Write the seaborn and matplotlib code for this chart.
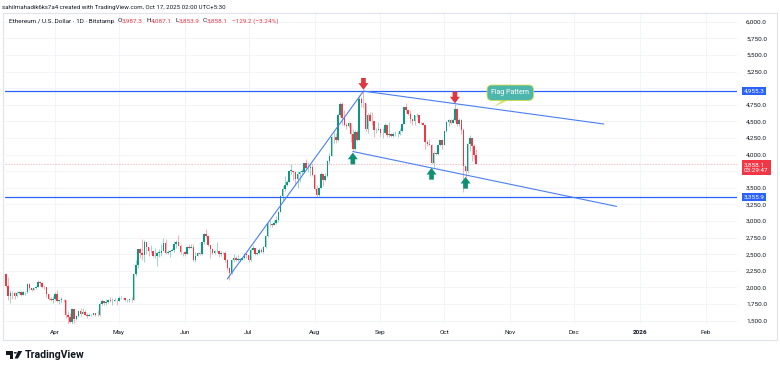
import matplotlib
matplotlib.use("Agg")
import matplotlib.pyplot as plt
import matplotlib.dates as mdates
from matplotlib.patches import Rectangle, Polygon, Circle
from matplotlib.ticker import FuncFormatter
from matplotlib.transforms import blended_transform_factory
import numpy as np
import pandas as pd
import seaborn as sns

# ETH/USD daily candles (Bitstamp, 1D)
start_day = "2025-03-09"
first_open = 2200

close_mar = [2020, 1865, 1920, 1910, 1865, 1910, 1935, 1890, 1925, 1930, 2055, 1985,
             1965, 1985, 2010, 2080, 2065, 2010, 2000, 1895, 1830, 1805, 1820]
high_mar = [2215, 2150, 1960, 1950, 1925, 1940, 1950, 1940, 1950, 1935, 2065, 2070,
            1995, 1995, 2020, 2105, 2090, 2075, 2035, 2005, 1905, 1850, 1865]
low_mar = [2010, 1810, 1760, 1830, 1825, 1860, 1900, 1870, 1885, 1885, 1920, 1960,
           1945, 1960, 1980, 2010, 2025, 1995, 1980, 1860, 1810, 1800, 1760]

close_apr = [1905, 1795, 1815, 1815, 1805, 1580, 1555, 1475, 1670, 1520, 1570, 1645, 1595, 1625, 1590,
             1575, 1585, 1585, 1615, 1590, 1580, 1755, 1795, 1770, 1785, 1815, 1790, 1800, 1800, 1795]
high_apr = [1925, 1955, 1820, 1850, 1825, 1815, 1640, 1620, 1690, 1670, 1585, 1650, 1690, 1690, 1660,
            1620, 1610, 1595, 1615, 1615, 1660, 1780, 1830, 1800, 1825, 1825, 1855, 1835, 1845, 1805]
low_apr = [1810, 1780, 1745, 1760, 1780, 1540, 1420, 1465, 1410, 1470, 1505, 1550, 1575, 1610, 1580,
           1540, 1565, 1575, 1580, 1570, 1570, 1575, 1740, 1730, 1740, 1770, 1785, 1740, 1790, 1730]

close_may = [1840, 1840, 1835, 1810, 1815, 1815, 1810, 2205, 2345, 2580, 2515, 2490, 2680, 2610, 2545, 2545,
             2470, 2480, 2525, 2525, 2550, 2665, 2525, 2530, 2550, 2565, 2660, 2680, 2630, 2530, 2530]
high_may = [1875, 1870, 1845, 1840, 1830, 1825, 1860, 2215, 2410, 2580, 2590, 2735, 2720, 2680, 2610, 2640,
            2555, 2590, 2535, 2580, 2650, 2740, 2735, 2570, 2560, 2590, 2700, 2710, 2790, 2650, 2540]
low_may = [1795, 1825, 1830, 1795, 1785, 1775, 1780, 1805, 2165, 2300, 2440, 2410, 2390, 2510, 2480, 2520,
           2455, 2450, 2330, 2460, 2470, 2550, 2510, 2510, 2460, 2545, 2540, 2600, 2620, 2500, 2480]

close_jun = [2510, 2610, 2590, 2610, 2420, 2480, 2525, 2505, 2680, 2810, 2770, 2640, 2580, 2525, 2545,
             2545, 2510, 2525, 2520, 2410, 2295, 2225, 2410, 2450, 2420, 2420, 2420, 2440, 2500, 2485]
high_jun = [2545, 2620, 2650, 2655, 2650, 2540, 2530, 2540, 2690, 2820, 2880, 2780, 2640, 2590, 2560,
            2680, 2560, 2550, 2540, 2550, 2425, 2310, 2425, 2505, 2480, 2485, 2445, 2445, 2520, 2520]
low_jun = [2470, 2500, 2580, 2590, 2400, 2380, 2470, 2490, 2490, 2660, 2760, 2630, 2440, 2500, 2510,
           2535, 2460, 2480, 2500, 2390, 2270, 2110, 2200, 2390, 2400, 2400, 2380, 2410, 2430, 2450]

close_jul = [2410, 2570, 2590, 2500, 2515, 2570, 2540, 2615, 2770, 2955, 2960, 2945, 2970, 3010, 3135, 3370,
             3475, 3545, 3590, 3755, 3760, 3740, 3630, 3705, 3740, 3745, 3870, 3795, 3795, 3810, 3700]
high_jul = [2495, 2595, 2640, 2595, 2525, 2590, 2595, 2625, 2790, 2985, 3020, 2970, 3010, 3070, 3150, 3390,
            3520, 3675, 3610, 3760, 3860, 3770, 3760, 3750, 3760, 3785, 3880, 3940, 3890, 3860, 3880]
low_jul = [2390, 2400, 2560, 2485, 2485, 2510, 2520, 2525, 2600, 2765, 2930, 2915, 2935, 2960, 2980, 3130,
           3310, 3450, 3520, 3590, 3710, 3620, 3540, 3500, 3580, 3715, 3730, 3780, 3740, 3680, 3680]

close_aug = [3485, 3395, 3500, 3715, 3610, 3685, 3910, 3980, 4260, 4260, 4225, 4600, 4760, 4550, 4440, 4430,
             4470, 4310, 4080, 4340, 4225, 4835, 4780, 4775, 4380, 4600, 4510, 4505, 4365, 4370, 4390]
high_aug = [3705, 3545, 3510, 3735, 3715, 3730, 3920, 4020, 4280, 4335, 4330, 4630, 4785, 4790, 4670, 4475,
            4490, 4480, 4390, 4370, 4375, 4890, 4860, 4955, 4780, 4620, 4645, 4635, 4505, 4395, 4485]
low_aug = [3460, 3355, 3370, 3490, 3530, 3600, 3670, 3855, 3985, 4170, 4180, 4205, 4570, 4450, 4430, 4390,
           4420, 4190, 4060, 4065, 4200, 4220, 4720, 4705, 4360, 4330, 4500, 4450, 4270, 4320, 4370]

close_sep = [4320, 4325, 4450, 4295, 4305, 4275, 4305, 4310, 4310, 4350, 4460, 4715, 4665, 4605, 4530,
             4500, 4590, 4590, 4470, 4480, 4450, 4195, 4165, 4150, 3870, 4030, 4015, 4140, 4215, 4145]
high_sep = [4395, 4395, 4475, 4450, 4490, 4320, 4335, 4350, 4345, 4400, 4465, 4720, 4770, 4670, 4665,
            4535, 4600, 4620, 4595, 4495, 4490, 4460, 4225, 4240, 4155, 4050, 4030, 4145, 4225, 4235]
low_sep = [4260, 4250, 4320, 4270, 4260, 4260, 4270, 4280, 4270, 4300, 4340, 4455, 4625, 4600, 4480,
           4450, 4440, 4570, 4455, 4460, 4440, 4080, 4130, 4140, 3860, 3820, 3995, 4000, 4125, 4090]

close_oct = [4350, 4490, 4515, 4480, 4515, 4685, 4455, 4525, 4365, 3835, 3755, 4160, 4250, 4125, 3987.3, 3858.1]
high_oct = [4360, 4510, 4535, 4530, 4555, 4755, 4695, 4550, 4530, 4395, 3835, 4175, 4290, 4215, 4160, 4087.1]
low_oct = [4140, 4340, 4430, 4465, 4480, 4510, 4435, 4435, 4310, 3435, 3670, 3730, 4060, 3905, 3930, 3853.9]

# key levels and drawings
level_prices = [4955.3, 3355.9]
last_price = 3858.1
hidden_ticks = [5000, 3750]  # covered by the price tags on the scale
rise_line = (["2025-06-21", "2025-08-24"], [2128, 4955.3])
flag_top = (["2025-08-24", "2025-12-15"], [4955.3, 4460])
flag_bottom = (["2025-08-19", "2025-12-21"], [4046, 3220])
down_arrow_dates = ["2025-08-24", "2025-10-06"]
down_arrow_prices = [4975, 4770]
up_arrow_dates = ["2025-08-19", "2025-09-25", "2025-10-11"]
up_arrow_prices = [4030, 3800, 3665]

month_ticks = ["2025-04-01", "2025-05-01", "2025-06-01", "2025-07-01", "2025-08-01", "2025-09-01",
               "2025-10-01", "2025-11-01", "2025-12-01", "2026-01-01", "2026-02-01"]
month_labels = ["Apr", "May", "Jun", "Jul", "Aug", "Sep", "Oct", "Nov", "Dec", "2026", "Feb"]

GREEN = "#089981"
RED = "#f23645"
BLUE = "#2962ff"
TXT = "#131722"

closes = close_mar + close_apr + close_may + close_jun + close_jul + close_aug + close_sep + close_oct
highs = high_mar + high_apr + high_may + high_jun + high_jul + high_aug + high_sep + high_oct
lows = low_mar + low_apr + low_may + low_jun + low_jul + low_aug + low_sep + low_oct

df = pd.DataFrame({"date": pd.date_range(start_day, periods=len(closes), freq="D"),
                   "close": closes, "high": highs, "low": lows})
df["open"] = [first_open] + closes[:-1]
df["x"] = mdates.date2num(df["date"])
up = df["close"] >= df["open"]

sns.set_theme(style="white")
plt.rcParams["font.family"] = ["Roboto", "DejaVu Sans"]

W, H = 780, 370
fig = plt.figure(figsize=(7.8, 3.7), dpi=100)
fig.patch.set_facecolor("white")


def fx(px):
    return px / W


def fy(py):
    return 1 - py / H


def dnum(d):
    return mdates.date2num(pd.to_datetime(d))


ax = fig.add_axes([fx(5), fy(324), fx(737) - fx(5), fy(13) - fy(324)])
ax.set_facecolor("white")

# candles
wick_cols = np.where(up, "#8ccfc2", "#f7a2a9")
body_cols = np.where(up, GREEN, RED)
ax.vlines(df["x"], df["low"], df["high"], colors=wick_cols, lw=0.6, zorder=2)
body_h = (df["close"] - df["open"]).abs().clip(lower=6)
body_b = df[["open", "close"]].min(axis=1)
ax.bar(df["x"], body_h, bottom=body_b, width=0.72, color=body_cols, linewidth=0, zorder=3)

# horizontal levels
for p in level_prices:
    ax.axhline(p, color=BLUE, lw=0.9, zorder=4)
ax.axhline(last_price, color=RED, lw=0.5, ls=(0, (2, 2)), alpha=0.45, zorder=1)

# trend / flag lines
for dates, prices in [rise_line, flag_top, flag_bottom]:
    sns.lineplot(x=dnum(dates), y=prices, ax=ax, color="#4a7ff2", lw=0.8, zorder=4)

# arrows
arrow_style = "simple,head_length=0.6,head_width=0.9,tail_width=0.42"
for d, p in zip(down_arrow_dates, down_arrow_prices):
    ax.annotate("", xy=(dnum(d), p), xytext=(0, 8.5), textcoords="offset points",
                arrowprops=dict(arrowstyle=arrow_style, color="#e0343f", lw=0,
                                shrinkA=0, shrinkB=0, mutation_scale=8), zorder=6)
for d, p in zip(up_arrow_dates, up_arrow_prices):
    ax.annotate("", xy=(dnum(d), p), xytext=(0, -8.5), textcoords="offset points",
                arrowprops=dict(arrowstyle=arrow_style, color="#0f8f73", lw=0,
                                shrinkA=0, shrinkB=0, mutation_scale=8), zorder=6)

# callout
ax.fill(dnum(["2025-10-29", "2025-11-01", "2025-10-24"]), [4834, 4834, 4714], color="#d6df6a", lw=0, zorder=6)
ax.text(dnum("2025-11-01"), 4931, "Flag Pattern", ha="center", va="center",
        color="white", fontsize=5.0, zorder=7,
        bbox=dict(boxstyle="round,pad=0.6,rounding_size=0.7", fc="#4db6ac", ec="#cbd83f", lw=0.6))

# limits, ticks, grid
ax.set_xlim(dnum("2025-03-08 12:00"), dnum("2026-02-15 14:00"))
ax.set_ylim(1450, 6131)
ax.set_yticks(np.arange(1500, 6001, 250))
ax.set_xticks(dnum(month_ticks))
ax.set_xticklabels(month_labels)
ax.set_xlabel("")
ax.set_ylabel("")
ax.grid(True, color="#f0f3fa", lw=0.6)
ax.set_axisbelow(True)
ax.yaxis.tick_right()
ax.yaxis.set_major_formatter(FuncFormatter(lambda v, pos: "" if v in hidden_ticks else f"{v:,.1f}"))
ax.tick_params(axis="y", length=0, pad=6.5, labelsize=4.6, labelcolor=TXT)
ax.tick_params(axis="x", length=0, pad=4.0, labelsize=4.6, labelcolor=TXT)
ax.get_xticklabels()[month_labels.index("2026")].set_fontweight("bold")
for s in ax.spines.values():
    s.set_visible(False)

# price tags on the right scale
trans = blended_transform_factory(ax.transAxes, ax.transData)
for p in level_prices:
    ax.text(1.0096, p, f"{p:,.1f}", transform=trans, ha="left", va="center", color="white",
            fontsize=4.6, clip_on=False, zorder=8,
            bbox=dict(boxstyle="square,pad=0.25", fc=BLUE, ec="none"))
ax.annotate(f"{last_price:,.1f}\n03:29:47", xy=(1.0096, last_price), xycoords=trans,
            xytext=(0, -2.6), textcoords="offset points", ha="left", va="center", color="white",
            fontsize=4.6, linespacing=1.25, annotation_clip=False, zorder=8,
            bbox=dict(boxstyle="square,pad=0.3", fc=RED, ec="none"))

# frame
fig.add_artist(Rectangle((fx(3), fy(340)), fx(777) - fx(3), fy(13) - fy(340), transform=fig.transFigure,
                         fill=False, ec="#e0e3eb", lw=0.8))

# header lines
fig.text(fx(2), fy(7), "sahilmahadik6ks7a4 created with TradingView.com, Oct 17, 2025 02:00 UTC+5:30",
         fontsize=4.4, color=TXT, va="center", ha="left")
segments = [("Ethereum / U.S. Dollar · 1D · Bitstamp", TXT, 0), ("O", TXT, 2.5), ("3,987.3", RED, 0),
            ("H", TXT, 2.5), ("4,087.1", RED, 0), ("L", TXT, 2.5), ("3,853.9", RED, 0),
            ("C", TXT, 2.5), ("3,858.1", RED, 0), ("\u2212129.2 (\u22123.24%)", RED, 2.5)]
prev = fig.text(fx(9), fy(21), segments[0][0], fontsize=4.6, color=segments[0][1], va="center", ha="left")
for txt, col, gap in segments[1:]:
    prev = ax.annotate(txt, xy=(1, 0), xycoords=prev, xytext=(gap, 0), textcoords="offset points",
                       fontsize=4.6, color=col, va="bottom", ha="left", annotation_clip=False)


# logo
def px_poly(points, **kw):
    return Polygon([(fx(a), fy(b)) for a, b in points], closed=True, transform=fig.transFigure, **kw)


fig.add_artist(px_poly([(6, 351), (13, 351), (13, 358.5), (10, 358.5), (10, 354.5), (6, 354.5)], fc=TXT, ec="none"))
fig.add_artist(Circle((fx(15.3), fy(352.8)), 1.6 / W, transform=fig.transFigure, fc=TXT, ec="none"))
fig.add_artist(px_poly([(18, 351), (22.2, 351), (18, 358.5), (14.6, 358.5)], fc=TXT, ec="none"))
fig.text(fx(25), fy(355), "TradingView", fontsize=7.6, fontweight="bold", color=TXT, va="center", ha="left")

fig.savefig("out.png", dpi=100)
